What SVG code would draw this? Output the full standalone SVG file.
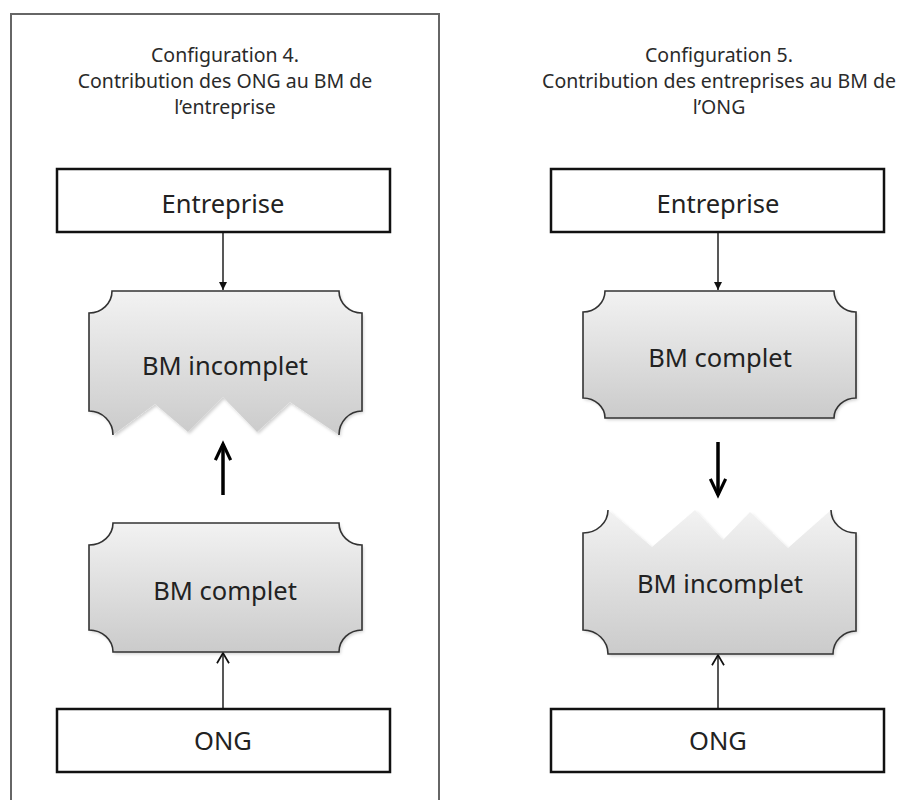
<svg xmlns="http://www.w3.org/2000/svg" width="902" height="800" viewBox="0 0 902 800">
<style>
  text { font-family: "Noto Sans", "Open Sans", "DejaVu Sans", sans-serif; fill: #222; text-anchor: middle; }
  .title { font-size: 19.5px; fill: #2a2a2a; }
  .lbl { font-size: 25.5px; }
  .box { fill: #fff; stroke: #111; stroke-width: 2.5; }
  .bm { fill: url(#grad); filter: url(#shadow); }
  .bmline { fill: none; stroke: #333; stroke-width: 1.6; }
  .thin { fill: none; stroke: #111; stroke-width: 1.4; }
  .bold { fill: none; stroke: #000; stroke-width: 3.5; }
  .frame { fill: none; stroke: #666; stroke-width: 2; }
</style>
<defs>
  <linearGradient id="grad" x1="0" y1="0" x2="0" y2="1">
    <stop offset="0" stop-color="#f2f2f2"/>
    <stop offset="1" stop-color="#cbcbcb"/>
  </linearGradient>
  <filter id="shadow" x="-10%" y="-10%" width="125%" height="125%">
    <feDropShadow dx="1.5" dy="2" stdDeviation="1.5" flood-color="#000" flood-opacity="0.18"/>
  </filter>
  <marker id="tri" viewBox="0 0 10 10" refX="10" refY="5" markerWidth="8" markerHeight="8" markerUnits="userSpaceOnUse" orient="auto">
    <path d="M0,0 L10,5 L0,10 Z" fill="#111"/>
  </marker>
  <marker id="chev" viewBox="0 0 14 16" refX="13" refY="8" markerWidth="12" markerHeight="14" markerUnits="userSpaceOnUse" orient="auto">
    <path d="M1,1 L13,8 L1,15" fill="none" stroke="#111" stroke-width="2"/>
  </marker>
  <marker id="boldhead" viewBox="0 0 24 20" refX="20" refY="10" markerWidth="22" markerHeight="18" markerUnits="userSpaceOnUse" orient="auto">
    <path d="M2,1.5 L20,10 L2,18.5" fill="none" stroke="#000" stroke-width="3.5"/>
  </marker>
</defs>

<rect class="frame" x="11" y="14" width="428" height="820"/>

<g id="title4">
  <text class="title" x="225" y="62">Configuration 4.</text>
  <text class="title" x="225" y="88">Contribution des ONG au BM de</text>
  <text class="title" x="225" y="114">l’entreprise</text>
</g>
<g id="title5">
  <text class="title" x="719" y="62">Configuration 5.</text>
  <text class="title" x="719" y="88">Contribution des entreprises au BM de</text>
  <text class="title" x="719" y="114">l’ONG</text>
</g>

<g id="connectors">
  <line class="thin" x1="223" y1="232" x2="223" y2="290" marker-end="url(#tri)"/>
  <line class="thin" x1="223" y1="709" x2="223" y2="653" marker-end="url(#chev)"/>
  <line class="bold" x1="223" y1="495" x2="223" y2="444" marker-end="url(#boldhead)"/>
  <line class="thin" x1="718" y1="232" x2="718" y2="290" marker-end="url(#tri)"/>
  <line class="thin" x1="718" y1="709" x2="718" y2="655" marker-end="url(#chev)"/>
  <line class="bold" x1="718" y1="442" x2="718" y2="495" marker-end="url(#boldhead)"/>
</g>

<g id="entreprise4">
  <rect class="box" x="57" y="169" width="333" height="63"/>
  <text class="lbl" x="223" y="213">Entreprise</text>
</g>
<g id="bm-incomplet4">
  <path class="bm" d="M112,291 L339,291 A23,22 0 0 0 362,313 L362,411 A23,24 0 0 0 339,435 L290,402 L257,432 L223,397 L188,432 L155,404 L113,435 A24,24 0 0 0 89,411 L89,313 A23,22 0 0 0 112,291 Z"/>
  <path class="bmline" d="M113,435 A24,24 0 0 0 89,411 L89,313 A23,22 0 0 0 112,291 L339,291 A23,22 0 0 0 362,313 L362,411 A23,24 0 0 0 339,435"/>
  <text class="lbl" x="225" y="375">BM incomplet</text>
</g>
<g id="bm-complet4">
  <path class="bm" d="M113,523 L339,523 A23,22 0 0 0 362,545 L362,630 A23,22 0 0 0 339,652 L113,652 A24,22 0 0 0 89,630 L89,545 A24,22 0 0 0 113,523 Z"/>
  <path class="bmline" d="M113,523 L339,523 A23,22 0 0 0 362,545 L362,630 A23,22 0 0 0 339,652 L113,652 A24,22 0 0 0 89,630 L89,545 A24,22 0 0 0 113,523 Z"/>
  <text class="lbl" x="225" y="600">BM complet</text>
</g>
<g id="ong4">
  <rect class="box" x="57" y="709" width="333" height="63"/>
  <text class="lbl" x="223" y="750">ONG</text>
</g>

<g id="entreprise5">
  <rect class="box" x="551" y="169" width="333" height="63"/>
  <text class="lbl" x="718" y="213">Entreprise</text>
</g>
<g id="bm-complet5">
  <path class="bm" d="M605,291 L834,291 A22,21 0 0 0 856,312 L856,398 A22,20 0 0 0 834,418 L605,418 A22,20 0 0 0 583,398 L583,312 A22,21 0 0 0 605,291 Z"/>
  <path class="bmline" d="M605,291 L834,291 A22,21 0 0 0 856,312 L856,398 A22,20 0 0 0 834,418 L605,418 A22,20 0 0 0 583,398 L583,312 A22,21 0 0 0 605,291 Z"/>
  <text class="lbl" x="720" y="367">BM complet</text>
</g>
<g id="bm-incomplet5">
  <path class="bm" d="M608,510 L652,547 L695,510 L723,540 L750,512 L788,548 L831,510 A25,23 0 0 0 856,533 L856,631 A23,23 0 0 0 833,654 L608,654 A25,24 0 0 0 583,630 L583,533 A25,23 0 0 0 608,510 Z"/>
  <path class="bmline" d="M831,510 A25,23 0 0 0 856,533 L856,631 A23,23 0 0 0 833,654 L608,654 A25,24 0 0 0 583,630 L583,533 A25,23 0 0 0 608,510"/>
  <text class="lbl" x="720" y="593">BM incomplet</text>
</g>
<g id="ong5">
  <rect class="box" x="551" y="709" width="333" height="63"/>
  <text class="lbl" x="718" y="750">ONG</text>
</g>
</svg>
